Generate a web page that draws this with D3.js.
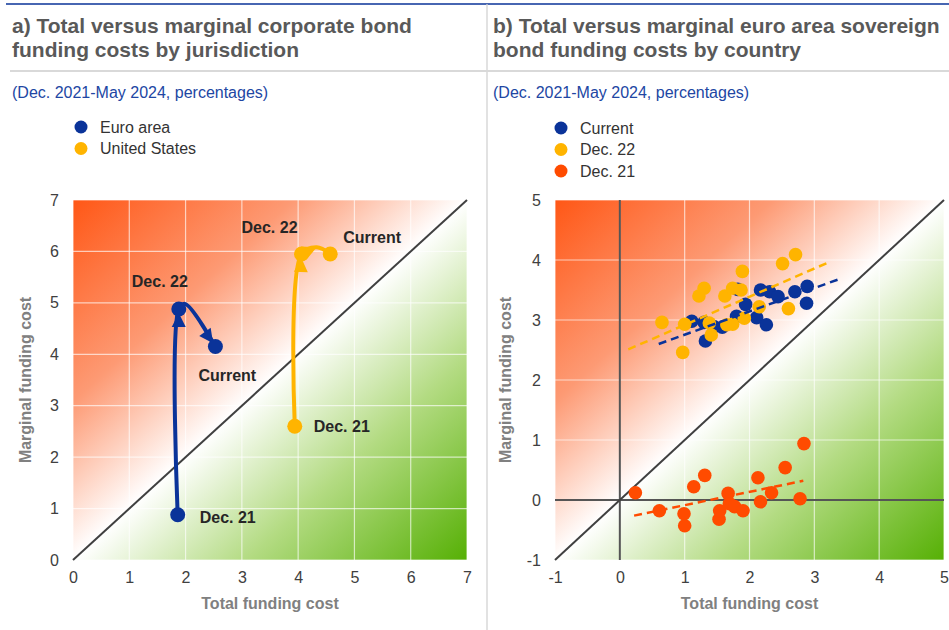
<!DOCTYPE html>
<html><head><meta charset="utf-8">
<script src="https://cdn.jsdelivr.net/npm/d3@7"></script>
<style>
body{margin:0;background:#fff}
svg{display:block;font-family:"Liberation Sans",Arial,Helvetica,sans-serif}
</style>
</head><body>
<svg id="c" width="949" height="630"></svg>
<script>
// ---------------- DATA ----------------
const ticksA = [0, 1, 2, 3, 4, 5, 6, 7];
const ticksB = [-1, 0, 1, 2, 3, 4, 5];

// Panel a: paths Dec. 21 -> Dec. 22 -> Current
const euroX = [1.86, 1.88, 1.99, 2.53];
const euroY = [0.88, 4.88, 4.98, 4.15];
const euroLabels = ["Dec. 21", "Dec. 22", "", "Current"];
const euroArrows = [0, 2];

const usX = [3.94, 4.06, 4.33, 4.57];
const usY = [2.60, 5.95, 6.08, 5.95];
const usLabels = ["Dec. 21", "Dec. 22", "", "Current"];
const usArrows = [0, 1];

// Panel b: scatter by country
const curX = [1.11, 1.30, 1.32, 1.45, 1.58, 1.80, 1.94, 2.11, 2.26, 2.17, 2.31, 2.44, 2.70, 2.89, 2.88, 1.82];
const curY = [2.98, 2.96, 2.65, 2.89, 2.88, 3.06, 3.26, 3.04, 2.92, 3.50, 3.47, 3.39, 3.47, 3.56, 3.28, 3.51];

const d22X = [0.65, 0.97, 1.00, 1.22, 1.30, 1.41, 1.38, 1.62, 1.74, 1.87, 1.74, 1.65, 1.92, 1.89, 2.15, 2.51, 2.71, 2.60];
const d22Y = [2.96, 2.46, 2.93, 3.40, 3.53, 2.75, 2.95, 3.40, 3.53, 3.50, 2.93, 2.92, 3.03, 3.81, 3.22, 3.94, 4.09, 3.19];

const d21X = [0.24, 0.61, 0.99, 1.00, 1.14, 1.31, 1.53, 1.54, 1.67, 1.69, 1.77, 1.90, 2.13, 2.17, 2.34, 2.55, 2.78, 2.84];
const d21Y = [0.12, -0.18, -0.23, -0.43, 0.22, 0.41, -0.32, -0.18, 0.11, -0.06, -0.11, -0.18, 0.37, -0.03, 0.12, 0.54, 0.02, 0.94];

// trend line end points [x0, x1], [y0, y1]
const curTrendX = [0.60, 3.38], curTrendY = [2.60, 3.68];
const d22TrendX = [0.13, 3.24], d22TrendY = [2.51, 3.97];
const d21TrendX = [0.22, 2.83], d21TrendY = [-0.26, 0.32];

const titleA = ["a) Total versus marginal corporate bond", "funding costs by jurisdiction"];
const titleB = ["b) Total versus marginal euro area sovereign", "bond funding costs by country"];
const subtitle = "(Dec. 2021-May 2024, percentages)";
const xTitle = "Total funding cost", yTitle = "Marginal funding cost";
const legendA = ["Euro area", "United States"];
const legendB = ["Current", "Dec. 22", "Dec. 21"];

// ---------------- STYLE ----------------
const BLUE = "#0a3399", YELLOW = "#ffb400", ORANGE = "#ff4b00";
const FONT = '"Liberation Sans", Arial, Helvetica, sans-serif';
// label offsets (pixels, relative to point)
const labelOffsetsEuro = {"Dec. 21": [22, 8], "Dec. 22": [-47, -22], "Current": [-17, 34]};
const labelOffsetsUS = {"Dec. 21": [19, 6], "Dec. 22": [-60, -21], "Current": [13, -11]};

const svg = d3.select("#c");
const defs = svg.append("defs");

// header
svg.append("line").attr("x1", 6).attr("x2", 949).attr("y1", 4).attr("y2", 4)
  .attr("stroke", "#0a3399").attr("stroke-width", 1.6);
svg.append("line").attr("x1", 487).attr("x2", 487).attr("y1", 4).attr("y2", 630)
  .attr("stroke", "#d3d3d3").attr("stroke-width", 1.3);
svg.append("line").attr("x1", 10).attr("x2", 949).attr("y1", 71).attr("y2", 71)
  .attr("stroke", "#d9d9d9").attr("stroke-width", 2);

function titles(x0, lines) {
  lines.forEach((t, i) => svg.append("text").attr("x", x0).attr("y", 33 + i * 24)
    .attr("font-size", 21).attr("font-weight", "bold").attr("fill", "#595959").text(t));
  svg.append("text").attr("x", x0).attr("y", 98).attr("font-size", 16)
    .attr("fill", "#2146a3").text(subtitle);
}
titles(12, titleA);
titles(493, titleB);

function legend(x0, y0, names, colors) {
  names.forEach((n, i) => {
    svg.append("circle").attr("cx", x0).attr("cy", y0 + i * 21.5).attr("r", 6.5).attr("fill", colors[i]);
    svg.append("text").attr("x", x0 + 19).attr("y", y0 + i * 21.5 + 5.5)
      .attr("font-size", 16).attr("fill", "#333").text(n);
  });
}
legend(81, 127, legendA, [BLUE, YELLOW]);
legend(561, 128, legendB, [BLUE, YELLOW, ORANGE]);

function panel(id, xd, yd, left, right, ticks, yTitleX) {
  const x = d3.scaleLinear().domain(xd).range([left, right]);
  const y = d3.scaleLinear().domain(yd).range([560, 200]);
  const grad = defs.append("linearGradient").attr("id", id)
    .attr("x1", 0).attr("y1", 0).attr("x2", 1).attr("y2", 1);
  [["0%", "#ff5716"], ["28%", "#fd9a74"], ["50%", "#ffffff"], ["72%", "#b3db82"], ["100%", "#56b005"]]
    .forEach(s => grad.append("stop").attr("offset", s[0]).attr("stop-color", s[1]));
  const g = svg.append("g");
  g.append("rect").attr("x", left).attr("y", 200).attr("width", right - left).attr("height", 360)
    .attr("fill", `url(#${id})`);
  // grid
  g.selectAll(".gx").data(ticks).enter().append("line")
    .attr("x1", d => x(d)).attr("x2", d => x(d)).attr("y1", 200).attr("y2", 560)
    .attr("stroke", "#ffffff").attr("stroke-opacity", 0.65).attr("stroke-width", 1.2);
  g.selectAll(".gy").data(ticks).enter().append("line")
    .attr("y1", d => y(d)).attr("y2", d => y(d)).attr("x1", left).attr("x2", right)
    .attr("stroke", "#ffffff").attr("stroke-opacity", 0.65).attr("stroke-width", 1.2);
  // axes
  const styleAxis = a => {
    a.select(".domain").remove();
    a.attr("font-family", FONT).attr("font-size", 16);
    a.selectAll("text").attr("fill", "#404040");
  };
  g.append("g").attr("transform", "translate(0,560)")
    .call(d3.axisBottom(x).tickValues(ticks).tickSize(0).tickPadding(12).tickFormat(d => String(d)))
    .call(styleAxis);
  g.append("g").attr("transform", `translate(${left},0)`)
    .call(d3.axisLeft(y).tickValues(ticks).tickSize(0).tickPadding(14).tickFormat(d => String(d)))
    .call(styleAxis);
  g.append("text").attr("x", (left + right) / 2).attr("y", 609).attr("text-anchor", "middle")
    .attr("font-size", 16).attr("font-weight", "bold").attr("fill", "#808080").text(xTitle);
  g.append("text").attr("transform", `translate(${yTitleX},380) rotate(-90)`).attr("text-anchor", "middle")
    .attr("font-size", 16).attr("font-weight", "bold").attr("fill", "#808080").text(yTitle);
  return {x, y, g};
}

// ---------------- PANEL A ----------------
const A = panel("gradA", [0, 7], [0, 7], 73, 467, ticksA, 31);
A.g.append("line").attr("x1", A.x(0)).attr("y1", A.y(0)).attr("x2", A.x(7)).attr("y2", A.y(7))
  .attr("stroke", "#404040").attr("stroke-width", 2);

function pathSeries(P, xs, ys, labels, arrows, color, offsets) {
  const pts = d3.zip(xs, ys);
  const line = d3.line().x(d => P.x(d[0])).y(d => P.y(d[1])).curve(d3.curveCatmullRom.alpha(0.5));
  P.g.append("path").attr("d", line(pts)).attr("fill", "none").attr("stroke", color)
    .attr("stroke-width", 4).attr("stroke-linecap", "round").attr("stroke-linejoin", "round");
  arrows.forEach(i => {
    const a = [P.x(pts[i][0]), P.y(pts[i][1])], b = [P.x(pts[i + 1][0]), P.y(pts[i + 1][1])];
    const dx = b[0] - a[0], dy = b[1] - a[1], L = Math.hypot(dx, dy);
    const ux = dx / L, uy = dy / L;
    const off = labels[i + 1] ? 4 : 0;
    const tip = [b[0] - ux * off, b[1] - uy * off];
    const base = [tip[0] - ux * 14, tip[1] - uy * 14];
    const px = -uy * 7, py = ux * 7;
    P.g.append("polygon").attr("fill", color)
      .attr("points", [tip, [base[0] + px, base[1] + py], [base[0] - px, base[1] - py]].map(p => p.join(",")).join(" "));
  });
  pts.forEach((p, i) => {
    if (!labels[i]) return;
    P.g.append("circle").attr("cx", P.x(p[0])).attr("cy", P.y(p[1])).attr("r", 7.5).attr("fill", color);
    const o = offsets[labels[i]];
    P.g.append("text").attr("x", P.x(p[0]) + o[0]).attr("y", P.y(p[1]) + o[1])
      .attr("font-size", 16).attr("font-weight", "bold").attr("fill", "#262626").text(labels[i]);
  });
}
pathSeries(A, euroX, euroY, euroLabels, euroArrows, BLUE, labelOffsetsEuro);
pathSeries(A, usX, usY, usLabels, usArrows, YELLOW, labelOffsetsUS);

// ---------------- PANEL B ----------------
const B = panel("gradB", [-1, 5], [-1, 5], 555, 944, ticksB, 511);
B.g.append("line").attr("x1", B.x(0)).attr("x2", B.x(0)).attr("y1", 200).attr("y2", 560)
  .attr("stroke", "#555").attr("stroke-width", 2);
B.g.append("line").attr("y1", B.y(0)).attr("y2", B.y(0)).attr("x1", 555).attr("x2", 944)
  .attr("stroke", "#555").attr("stroke-width", 2);
B.g.append("line").attr("x1", B.x(-1)).attr("y1", B.y(-1)).attr("x2", B.x(5)).attr("y2", B.y(5))
  .attr("stroke", "#404040").attr("stroke-width", 2);

function dots(xs, ys, color) {
  B.g.append("g").selectAll("circle").data(d3.zip(xs, ys)).enter().append("circle")
    .attr("cx", d => B.x(d[0])).attr("cy", d => B.y(d[1])).attr("r", 6.8).attr("fill", color);
}
dots(d21X, d21Y, ORANGE);
dots(curX, curY, BLUE);
dots(d22X, d22Y, YELLOW);

function trend(xs, ys, color) {
  B.g.append("line").attr("x1", B.x(xs[0])).attr("y1", B.y(ys[0])).attr("x2", B.x(xs[1])).attr("y2", B.y(ys[1]))
    .attr("stroke", color).attr("stroke-width", 2.5).attr("stroke-dasharray", "8,5");
}
trend(d21TrendX, d21TrendY, ORANGE);
trend(curTrendX, curTrendY, BLUE);
trend(d22TrendX, d22TrendY, YELLOW);
</script>
</body></html>
